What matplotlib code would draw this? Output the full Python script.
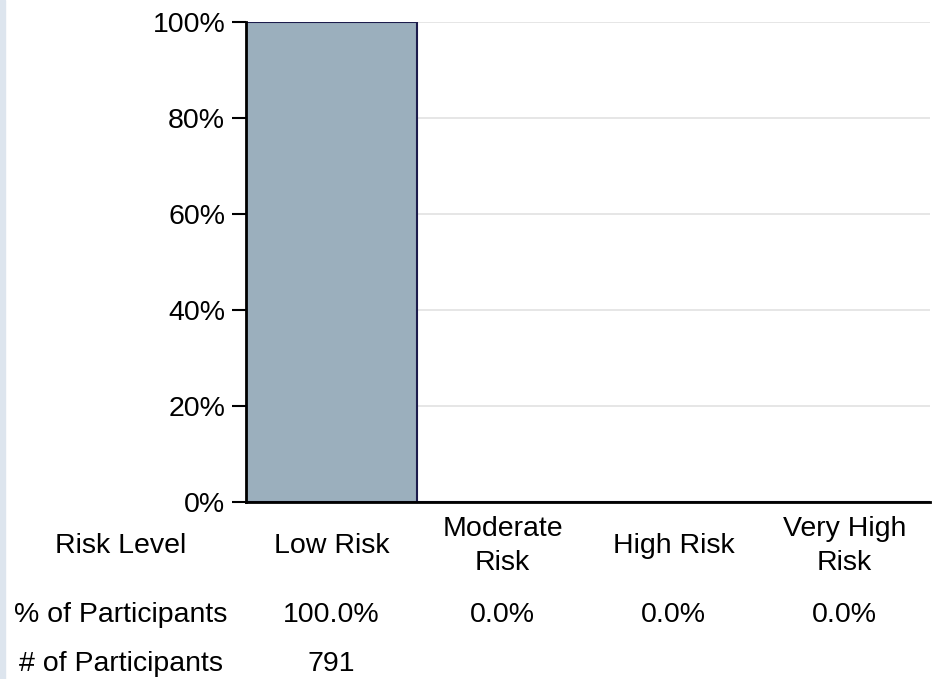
import matplotlib.pyplot as plt
from matplotlib.patches import Rectangle

categories = ["Low Risk", "Moderate\nRisk", "High Risk", "Very High\nRisk"]
pct = [100.0, 0.0, 0.0, 0.0]
counts = [791, None, None, None]
row_labels = ["Risk Level", "% of Participants", "# of Participants"]
yticks = [0, 20, 40, 60, 80, 100]

plt.rcParams['font.family'] = ['Liberation Sans', 'DejaVu Sans']
fs = 20.5

fig = plt.figure(figsize=(9.34, 6.79), dpi=100)
fig.patches.append(Rectangle((0, 0), 5 / 934, 1, transform=fig.transFigure,
                             color="#dde5ee", zorder=0))
ax = fig.add_axes([246 / 934, 177 / 679, 684 / 934, 480 / 679])

x = list(range(len(categories)))
ax.bar(x, pct, width=1.0, color="#9bafbd", edgecolor="#1c1c4c", linewidth=1.5, zorder=2)

ax.set_xlim(-0.5, len(categories) - 0.5)
ax.set_ylim(0, 100)
ax.set_yticks(yticks)
ax.set_yticklabels([f"{v}%" for v in yticks], fontsize=fs)
ax.yaxis.grid(True, color="#e2e2e2", linewidth=1.2, zorder=0)
ax.set_axisbelow(True)
ax.set_xticks([])
ax.tick_params(axis="y", length=10, width=1.5, pad=5)
for s in ["top", "right"]:
    ax.spines[s].set_visible(False)
for s in ["left", "bottom"]:
    ax.spines[s].set_linewidth(2)

# table rows below the axis (y in axes fraction, x in data)
xt = ax.get_xaxis_transform()
row_y = [(502 - 546) / 480, (502 - 615) / 480, (502 - 664) / 480]

for yy, lab in zip(row_y, row_labels):
    fig.text(121 / 934, (679 - 502 + yy * 480) / 679, lab, fontsize=fs,
             ha="center", va="center")

for i, cat in enumerate(categories):
    ax.text(i, row_y[0], cat, transform=xt, fontsize=fs, ha="center", va="center",
            linespacing=1.45)
    ax.text(i, row_y[1], f"{pct[i]:.1f}%", transform=xt, fontsize=fs,
            ha="center", va="center")
    if counts[i] is not None:
        ax.text(i, row_y[2], str(counts[i]), transform=xt, fontsize=fs,
                ha="center", va="center")

fig.savefig("out.png", dpi=100)
